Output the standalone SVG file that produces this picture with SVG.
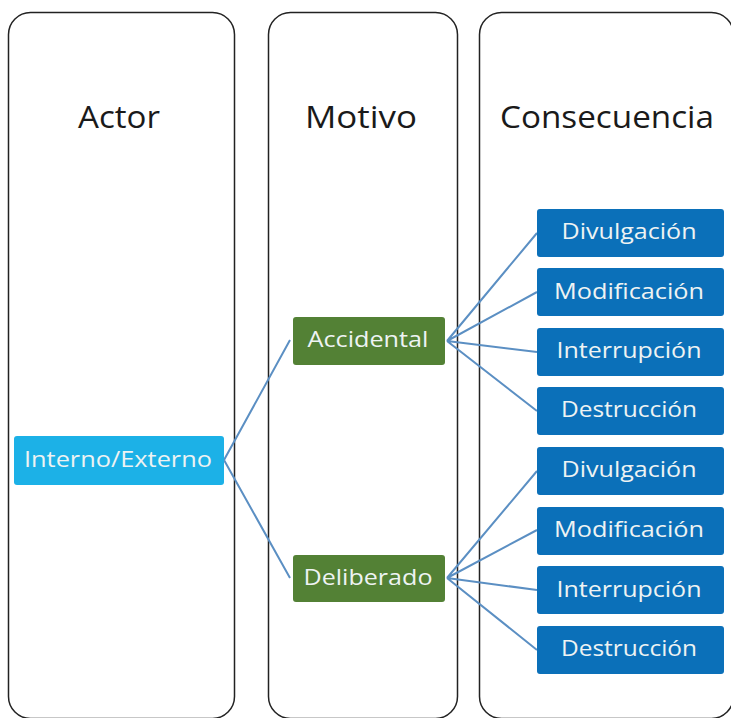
<svg xmlns="http://www.w3.org/2000/svg" width="731" height="718" viewBox="0 0 731 718">
<style>
.col{fill:#fff;stroke:#222;stroke-width:1.5}
.title{font-family:"Open Sans","Liberation Sans",sans-serif;font-size:31px;fill:#1a1a1a;text-anchor:middle}
.lbl{font-family:"Open Sans","Liberation Sans",sans-serif;font-size:21px;fill:#eef3f3;text-anchor:middle}
.actor{fill:#1cb1e7}
.motivo{fill:#538135}
.cons{fill:#0b70b9}
.conn{stroke:#5b8fc3;stroke-width:2;fill:none}
</style>
<rect width="731" height="718" fill="#fff"/>
<g id="col-actor"><rect class="col" x="8.5" y="12.5" width="226" height="706" rx="22"/><text class="title" x="119" y="128" textLength="82" lengthAdjust="spacingAndGlyphs">Actor</text></g>
<g id="col-motivo"><rect class="col" x="268.5" y="12.5" width="189" height="706" rx="22"/><text class="title" x="361" y="128" textLength="112" lengthAdjust="spacingAndGlyphs">Motivo</text></g>
<g id="col-consecuencia"><rect class="col" x="479.5" y="12.5" width="254" height="706" rx="22"/><text class="title" x="607" y="128" textLength="214" lengthAdjust="spacingAndGlyphs">Consecuencia</text></g>
<g id="connectors">
<path class="conn" d="M224 460 L290 340 M224 460 L290 578"/>
<path class="conn" d="M447 341 L537 233 M447 341 L537 292 M447 341 L537 352 M447 341 L537 411"/>
<path class="conn" d="M447 578 L537 471 M447 578 L537 530 M447 578 L537 590 M447 578 L537 650"/>
</g>
<g id="n-interno"><rect class="actor" x="14" y="436" width="210" height="49" rx="3"/><text class="lbl" x="118" y="467" textLength="188" lengthAdjust="spacingAndGlyphs">Interno/Externo</text></g>
<g id="n-accidental"><rect class="motivo" x="293" y="317" width="152" height="48" rx="3"/><text class="lbl" x="368" y="347" textLength="121" lengthAdjust="spacingAndGlyphs">Accidental</text></g>
<g id="n-deliberado"><rect class="motivo" x="293" y="555" width="152" height="47" rx="3"/><text class="lbl" x="368" y="585" textLength="129" lengthAdjust="spacingAndGlyphs">Deliberado</text></g>
<g id="n-a-divulgacion"><rect class="cons" x="537" y="209" width="187" height="48" rx="3"/><text class="lbl" x="629" y="239" textLength="135" lengthAdjust="spacingAndGlyphs">Divulgación</text></g>
<g id="n-a-modificacion"><rect class="cons" x="537" y="268" width="187" height="48" rx="3"/><text class="lbl" x="629" y="299" textLength="150" lengthAdjust="spacingAndGlyphs">Modificación</text></g>
<g id="n-a-interrupcion"><rect class="cons" x="537" y="328" width="187" height="48" rx="3"/><text class="lbl" x="629" y="358" textLength="145" lengthAdjust="spacingAndGlyphs">Interrupción</text></g>
<g id="n-a-destruccion"><rect class="cons" x="537" y="387" width="187" height="48" rx="3"/><text class="lbl" x="629" y="417" textLength="136" lengthAdjust="spacingAndGlyphs">Destrucción</text></g>
<g id="n-d-divulgacion"><rect class="cons" x="537" y="447" width="187" height="48" rx="3"/><text class="lbl" x="629" y="477" textLength="135" lengthAdjust="spacingAndGlyphs">Divulgación</text></g>
<g id="n-d-modificacion"><rect class="cons" x="537" y="507" width="187" height="48" rx="3"/><text class="lbl" x="629" y="537" textLength="150" lengthAdjust="spacingAndGlyphs">Modificación</text></g>
<g id="n-d-interrupcion"><rect class="cons" x="537" y="566" width="187" height="48" rx="3"/><text class="lbl" x="629" y="597" textLength="145" lengthAdjust="spacingAndGlyphs">Interrupción</text></g>
<g id="n-d-destruccion"><rect class="cons" x="537" y="626" width="187" height="48" rx="3"/><text class="lbl" x="629" y="656" textLength="136" lengthAdjust="spacingAndGlyphs">Destrucción</text></g>
</svg>
